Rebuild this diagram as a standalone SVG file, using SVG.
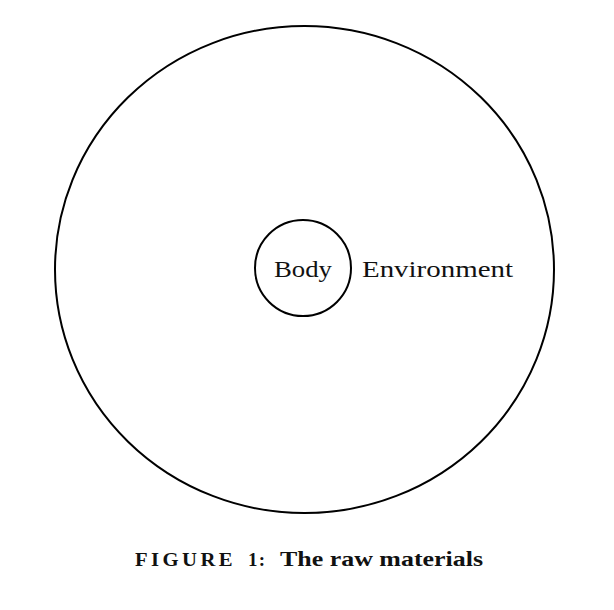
<svg xmlns="http://www.w3.org/2000/svg" width="614" height="610" viewBox="0 0 614 610">
  <style>
    .ring { fill: none; stroke: #000; stroke-width: 2; }
    .lbl { font-family: "Liberation Serif", "DejaVu Serif", serif; font-size: 23px; fill: #111; }
    .cap { font-family: "Liberation Serif", "DejaVu Serif", serif; fill: #111; font-weight: bold; }
  </style>
  <rect x="0" y="0" width="614" height="610" fill="#fff"/>
  <g id="environment">
    <ellipse class="ring" cx="304.5" cy="269.5" rx="249.5" ry="243.5"/>
    <text class="lbl" x="362" y="277" textLength="151" lengthAdjust="spacingAndGlyphs">Environment</text>
  </g>
  <g id="body">
    <circle class="ring" cx="303" cy="268" r="48"/>
    <text class="lbl" x="274" y="277" textLength="58" lengthAdjust="spacingAndGlyphs">Body</text>
  </g>
  <g id="connectors"></g>
  <g id="caption">
    <text class="cap" transform="translate(135,566) scale(1.15,1)" x="0" y="0" font-size="18" letter-spacing="3">FIGURE</text>
    <text class="cap" x="248" y="566" font-size="19" textLength="17" lengthAdjust="spacing">1:</text>
    <text class="cap" x="280" y="566" font-size="22" textLength="203" lengthAdjust="spacingAndGlyphs">The raw materials</text>
  </g>
</svg>
